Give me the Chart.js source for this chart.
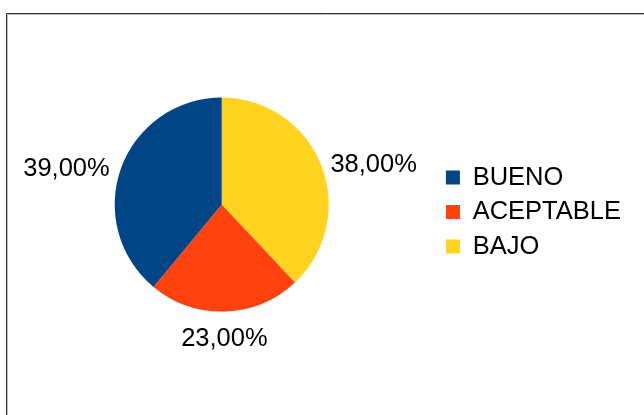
<!DOCTYPE html>
<html>
<head>
<meta charset="utf-8">
<script src="https://cdn.jsdelivr.net/npm/chart.js@4/dist/chart.umd.min.js"></script>
<style>
  html, body { margin: 0; padding: 0; background: #fff; }
  #wrap { width: 644px; height: 415px; }
</style>
</head>
<body>
<div id="wrap"><canvas id="grafico" width="644" height="415"></canvas></div>
<script>
// datos del gráfico (orden de la leyenda)
const categorias = ['BUENO', 'ACEPTABLE', 'BAJO'];
const porcentajes = [39, 23, 38];
const colores = ['#004586', '#ff420e', '#ffd320'];

const FUENTE = '"Liberation Sans", Arial, sans-serif';
const TAM = 25.5;

// LibreOffice dibuja las porciones en sentido antihorario,
// Chart.js en sentido horario: se invierte el orden
const etiquetas = categorias.slice().reverse();
const valores = porcentajes.slice().reverse();
const fondos = colores.slice().reverse();

// marco de la imagen
const marco = {
  id: 'marco',
  beforeDraw(chart) {
    const ctx = chart.ctx;
    ctx.save();
    ctx.lineWidth = 1;
    ctx.strokeStyle = '#bdbdbd';
    ctx.beginPath();
    ctx.moveTo(7.5, chart.height);
    ctx.lineTo(7.5, 14.5);
    ctx.lineTo(chart.width, 14.5);
    ctx.stroke();
    ctx.strokeStyle = '#333333';
    ctx.beginPath();
    ctx.moveTo(6.5, chart.height);
    ctx.lineTo(6.5, 13.5);
    ctx.lineTo(chart.width, 13.5);
    ctx.stroke();
    ctx.restore();
  }
};

// porcentajes fuera de cada porción
const rotulos = {
  id: 'rotulos',
  afterDatasetsDraw(chart) {
    const ctx = chart.ctx;
    const meta = chart.getDatasetMeta(0);
    ctx.save();
    ctx.font = TAM + 'px ' + FUENTE;
    ctx.fillStyle = '#000';
    meta.data.forEach((arc, i) => {
      const p = arc.getProps(['x', 'y', 'startAngle', 'endAngle', 'outerRadius'], true);
      const medio = (p.startAngle + p.endAngle) / 2;
      const cx = Math.cos(medio);
      const cy = Math.sin(medio);
      const d = p.outerRadius + 11;
      const x = p.x + cx * d - 1;
      const y = p.y + cy * d + 4;
      if (cx > 0.3) { ctx.textAlign = 'left'; ctx.textBaseline = 'middle'; }
      else if (cx < -0.3) { ctx.textAlign = 'right'; ctx.textBaseline = 'middle'; }
      else { ctx.textAlign = 'center'; ctx.textBaseline = cy > 0 ? 'top' : 'bottom'; }
      const texto = valores[i].toFixed(2).replace('.', ',') + '%';
      ctx.fillText(texto, x, y);
    });
    ctx.restore();
  }
};

const ctx = document.getElementById('grafico').getContext('2d');
new Chart(ctx, {
  type: 'pie',
  data: {
    labels: etiquetas,
    datasets: [{
      data: valores,
      backgroundColor: fondos,
      borderWidth: 0
    }]
  },
  options: {
    responsive: false,
    devicePixelRatio: 1,
    animation: false,
    layout: {
      padding: { left: 6.5, right: 13, top: 97.5, bottom: 103.5 }
    },
    plugins: {
      tooltip: { enabled: false },
      legend: {
        position: 'right',
        reverse: true,
        title: { display: true, text: '', padding: 0, font: { size: 15, lineHeight: 1 } },
        labels: {
          boxWidth: 14,
          boxHeight: 14,
          padding: 9,
          color: '#000',
          font: { family: FUENTE, size: TAM }
        }
      }
    }
  },
  plugins: [marco, rotulos]
});
</script>
</body>
</html>
